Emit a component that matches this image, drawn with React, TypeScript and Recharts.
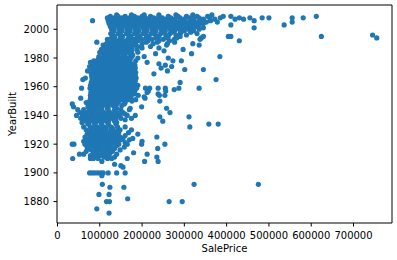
import React from 'react';
import { ScatterChart, Scatter, XAxis, YAxis, ReferenceLine } from 'recharts';

// Each entry: [YearBuilt, SalePrices in thousands of dollars]
const built2000s: [number, number[]][] = [
  [2010, [140, 175, 205, 240, 280, 320, 365]],
  [2009, [125, 143, 160, 182, 200, 220, 240, 262, 285, 305, 330, 355, 392, 410, 612]],
  [2008, [118, 134, 152, 170, 190, 208, 228, 248, 268, 290, 312, 335, 360, 385, 430, 455, 484, 500, 555, 581]],
  [2007, [126, 144, 162, 180, 198, 218, 238, 258, 278, 300, 322, 345, 372, 420, 440]],
  [2006, [83, 120, 136, 154, 172, 190, 210, 230, 250, 270, 292, 315, 338, 362, 465]],
  [2005, [128, 146, 165, 184, 202, 222, 242, 262, 284, 305, 328, 352, 378, 555]],
  [2004, [122, 140, 158, 176, 195, 214, 234, 255, 276, 298, 320, 345]],
  [2003, [130, 150, 168, 187, 206, 226, 246, 268, 290, 312, 335, 410, 536]],
  [2002, [125, 143, 162, 180, 200, 220, 240, 260, 282, 305, 328]],
  [2001, [133, 152, 171, 190, 210, 230, 252, 274, 296, 318, 345, 465]],
  [2000, [128, 146, 165, 184, 204, 224, 245, 266, 288, 310, 335]],
];

const built1976to1999: [number, number[]][] = [
  [1999, [134, 153, 172, 192, 212, 233, 255, 277, 300, 322]],
  [1998, [131, 148, 167, 186, 206, 226, 248, 270, 292, 315]],
  [1997, [126, 144, 163, 182, 202, 222, 244, 266, 290, 330]],
  [1996, [130, 150, 170, 190, 210, 232, 256, 280, 305, 745]],
  [1995, [135, 154, 174, 195, 216, 240, 262, 290, 345, 404, 410, 624]],
  [1994, [128, 148, 168, 188, 210, 234, 258, 282, 340, 755]],
  [1993, [118, 134, 150, 166, 182, 200, 224, 250, 276, 337]],
  [1992, [126, 140, 156, 172, 190, 214, 240, 265, 430]],
  [1991, [93, 120, 134, 148, 164, 185, 210, 236, 277]],
  [1990, [116, 128, 142, 158, 176, 200, 226, 260, 320]],
  [1989, [108, 122, 136, 150, 166, 184, 258, 335]],
  [1988, [112, 126, 140, 156, 172, 190, 220]],
  [1987, [118, 132, 146, 160, 176, 200, 240]],
  [1986, [104, 120, 134, 150, 166, 188, 297]],
  [1985, [115, 128, 142, 158, 176, 252]],
  [1984, [100, 114, 130, 148, 164, 190]],
  [1983, [108, 122, 138, 155, 172, 232, 317]],
  [1982, [114, 128, 144, 160, 178]],
  [1981, [98, 112, 126, 142, 158, 176, 205, 384]],
  [1980, [106, 120, 135, 150, 168, 190, 262]],
  [1979, [96, 110, 124, 140, 156, 172]],
  [1978, [86, 100, 114, 128, 144, 160, 185, 273, 293]],
  [1977, [78, 92, 106, 120, 134, 150, 166, 212]],
  [1976, [90, 104, 118, 132, 146, 160, 176, 240]],
];

const built1945to1975: [number, number[]][] = [
  [1975, [85, 99, 113, 127, 141, 155, 169, 183, 255]],
  [1974, [76, 92, 106, 120, 134, 148, 162, 176, 270]],
  [1973, [85, 99, 113, 127, 141, 155, 169, 184, 245]],
  [1972, [82, 95, 109, 123, 137, 151, 165, 180, 301, 345]],
  [1971, [71, 88, 102, 116, 130, 144, 158, 172, 260]],
  [1970, [84, 98, 112, 126, 140, 154, 168, 185]],
  [1969, [80, 93, 107, 121, 135, 149, 163, 177, 228]],
  [1968, [86, 100, 114, 128, 142, 156, 170, 184]],
  [1967, [81, 94, 108, 122, 136, 150, 164, 178]],
  [1966, [66, 87, 101, 115, 129, 143, 157, 171, 186]],
  [1965, [60, 82, 95, 109, 123, 137, 151, 165, 180, 375]],
  [1964, [86, 100, 114, 128, 142, 156, 170, 184]],
  [1963, [80, 93, 107, 121, 135, 149, 163, 177, 290]],
  [1962, [84, 98, 112, 126, 140, 154, 168, 182]],
  [1961, [78, 91, 105, 119, 133, 147, 161, 175, 190]],
  [1960, [85, 99, 113, 127, 141, 155, 169, 183]],
  [1959, [57, 77, 89, 103, 117, 131, 145, 159, 173, 187, 208, 218, 238, 255, 287, 335]],
  [1958, [82, 96, 110, 124, 138, 152, 166, 180, 276]],
  [1957, [86, 99, 113, 127, 141, 155, 169, 183, 215, 256]],
  [1956, [79, 92, 106, 120, 134, 148, 162, 176, 212]],
  [1955, [84, 98, 112, 126, 140, 154, 168, 182, 238]],
  [1954, [78, 90, 104, 118, 132, 146, 160, 174, 191, 241, 254]],
  [1953, [83, 97, 111, 125, 139, 153, 167, 205]],
  [1952, [55, 78, 90, 104, 118, 132, 146, 160, 174, 207]],
  [1951, [82, 96, 110, 124, 138, 152, 166, 185]],
  [1950, [76, 89, 103, 117, 131, 145, 159, 176, 242]],
  [1949, [68, 86, 100, 114, 128, 142, 160]],
  [1948, [35, 76, 92, 108, 124, 140, 158]],
  [1947, [82, 98, 115, 132, 152]],
  [1946, [38, 72, 88, 104, 120, 136, 199]],
  [1945, [80, 98, 118, 140, 172, 258]],
];

const built1910to1944: [number, number[]][] = [
  [1944, [48, 62, 75, 90, 105, 120, 135, 150, 170]],
  [1942, [53, 68, 82, 96, 110, 125, 140, 155, 266]],
  [1941, [58, 72, 86, 100, 115, 130, 145, 160]],
  [1940, [45, 60, 75, 88, 102, 118, 132, 148, 165, 184]],
  [1939, [65, 80, 95, 110, 125, 140, 242, 311]],
  [1938, [55, 70, 85, 100, 115, 130, 150, 175]],
  [1937, [62, 78, 92, 108, 122, 138, 160]],
  [1936, [68, 85, 100, 116, 135, 249]],
  [1935, [58, 75, 90, 105, 120, 140]],
  [1934, [72, 88, 104, 120, 138, 358, 380]],
  [1932, [62, 78, 94, 110, 126, 142, 160, 313]],
  [1931, [85, 100, 115, 130]],
  [1930, [68, 82, 98, 114, 130, 148, 175]],
  [1929, [75, 92, 108, 125, 140]],
  [1928, [80, 95, 110, 128, 145, 168]],
  [1927, [70, 86, 102, 118, 135, 190]],
  [1926, [78, 94, 110, 126, 142, 160]],
  [1925, [65, 82, 98, 114, 130, 148, 235]],
  [1924, [75, 90, 106, 122, 138, 155, 178]],
  [1923, [68, 84, 100, 116, 132, 150, 170]],
  [1922, [62, 78, 94, 110, 126, 142, 200]],
  [1921, [72, 88, 104, 120, 136, 160]],
  [1920, [35, 39, 65, 80, 96, 112, 128, 145, 165, 199, 254]],
  [1919, [85, 102, 118, 140]],
  [1918, [70, 88, 105, 125, 158]],
  [1917, [75, 95, 115, 135, 237]],
  [1916, [80, 100, 120, 148]],
  [1915, [68, 90, 110, 130]],
  [1914, [85, 105, 125, 180]],
  [1913, [52, 62, 95, 115, 140, 212]],
  [1912, [78, 100, 122]],
  [1911, [88, 110, 135, 235]],
  [1910, [36, 78, 85, 96, 118, 128, 165]],
];

const builtBefore1910: [number, number[]][] = [
  [1908, [105, 206, 238]],
  [1906, [135]],
  [1905, [150]],
  [1904, [155]],
  [1900, [76, 82, 88, 95, 102, 108, 120, 140, 160]],
  [1898, [105]],
  [1892, [106, 323, 475]],
  [1890, [124, 157]],
  [1885, [98, 122]],
  [1882, [166]],
  [1880, [116, 123, 264, 295]],
  [1875, [93]],
  [1872, [122]],
];

const PRICE_UNIT = 1000;
const X_TICKS = [0, 100000, 200000, 300000, 400000, 500000, 600000, 700000];
const Y_TICKS = [1880, 1900, 1920, 1940, 1960, 1980, 2000];
const X_DOMAIN: [number, number] = [-1105, 791005];
const Y_DOMAIN: [number, number] = [1865.1, 2016.9];

const data = [...built2000s, ...built1976to1999, ...built1945to1975, ...built1910to1944, ...builtBefore1910].flatMap(
  ([year, prices]) => prices.map((p) => ({ SalePrice: p * PRICE_UNIT, YearBuilt: year }))
);

const FONT = '"DejaVu Sans", Verdana, sans-serif';
const tickStyle = { fill: '#000', fontSize: 10, fontFamily: FONT };

const Dot = (props: any) => <circle cx={props.cx} cy={props.cy} r={2.6} fill="#1f77b4" />;

export default function App() {
  return (
    <div style={{ position: 'absolute', left: 0, top: 0, width: 397, height: 260, background: '#fff' }}>
      <ScatterChart width={397} height={260} margin={{ top: 5, right: 5, bottom: 0, left: 0 }}>
        <XAxis
          type="number"
          dataKey="SalePrice"
          domain={X_DOMAIN}
          ticks={X_TICKS}
          interval={0}
          allowDataOverflow
          height={37}
          tickSize={3.5}
          tickMargin={5.5}
          stroke="#000"
          tick={tickStyle}
        />
        <YAxis
          type="number"
          dataKey="YearBuilt"
          domain={Y_DOMAIN}
          ticks={Y_TICKS}
          interval={0}
          allowDataOverflow
          width={57}
          tickSize={3.5}
          tickMargin={4.5}
          stroke="#000"
          tick={tickStyle}
        />
        <ReferenceLine x={X_DOMAIN[1]} stroke="#000" />
        <ReferenceLine y={Y_DOMAIN[1]} stroke="#000" />
        <Scatter data={data} isAnimationActive={false} shape={Dot} />
        <text x={224.5} y={251.5} textAnchor="middle" fontSize={10} fontFamily={FONT} fill="#000">
          SalePrice
        </text>
        <text
          x={16}
          y={114}
          textAnchor="middle"
          fontSize={10}
          fontFamily={FONT}
          fill="#000"
          transform="rotate(-90, 16, 114)"
        >
          YearBuilt
        </text>
      </ScatterChart>
    </div>
  );
}
